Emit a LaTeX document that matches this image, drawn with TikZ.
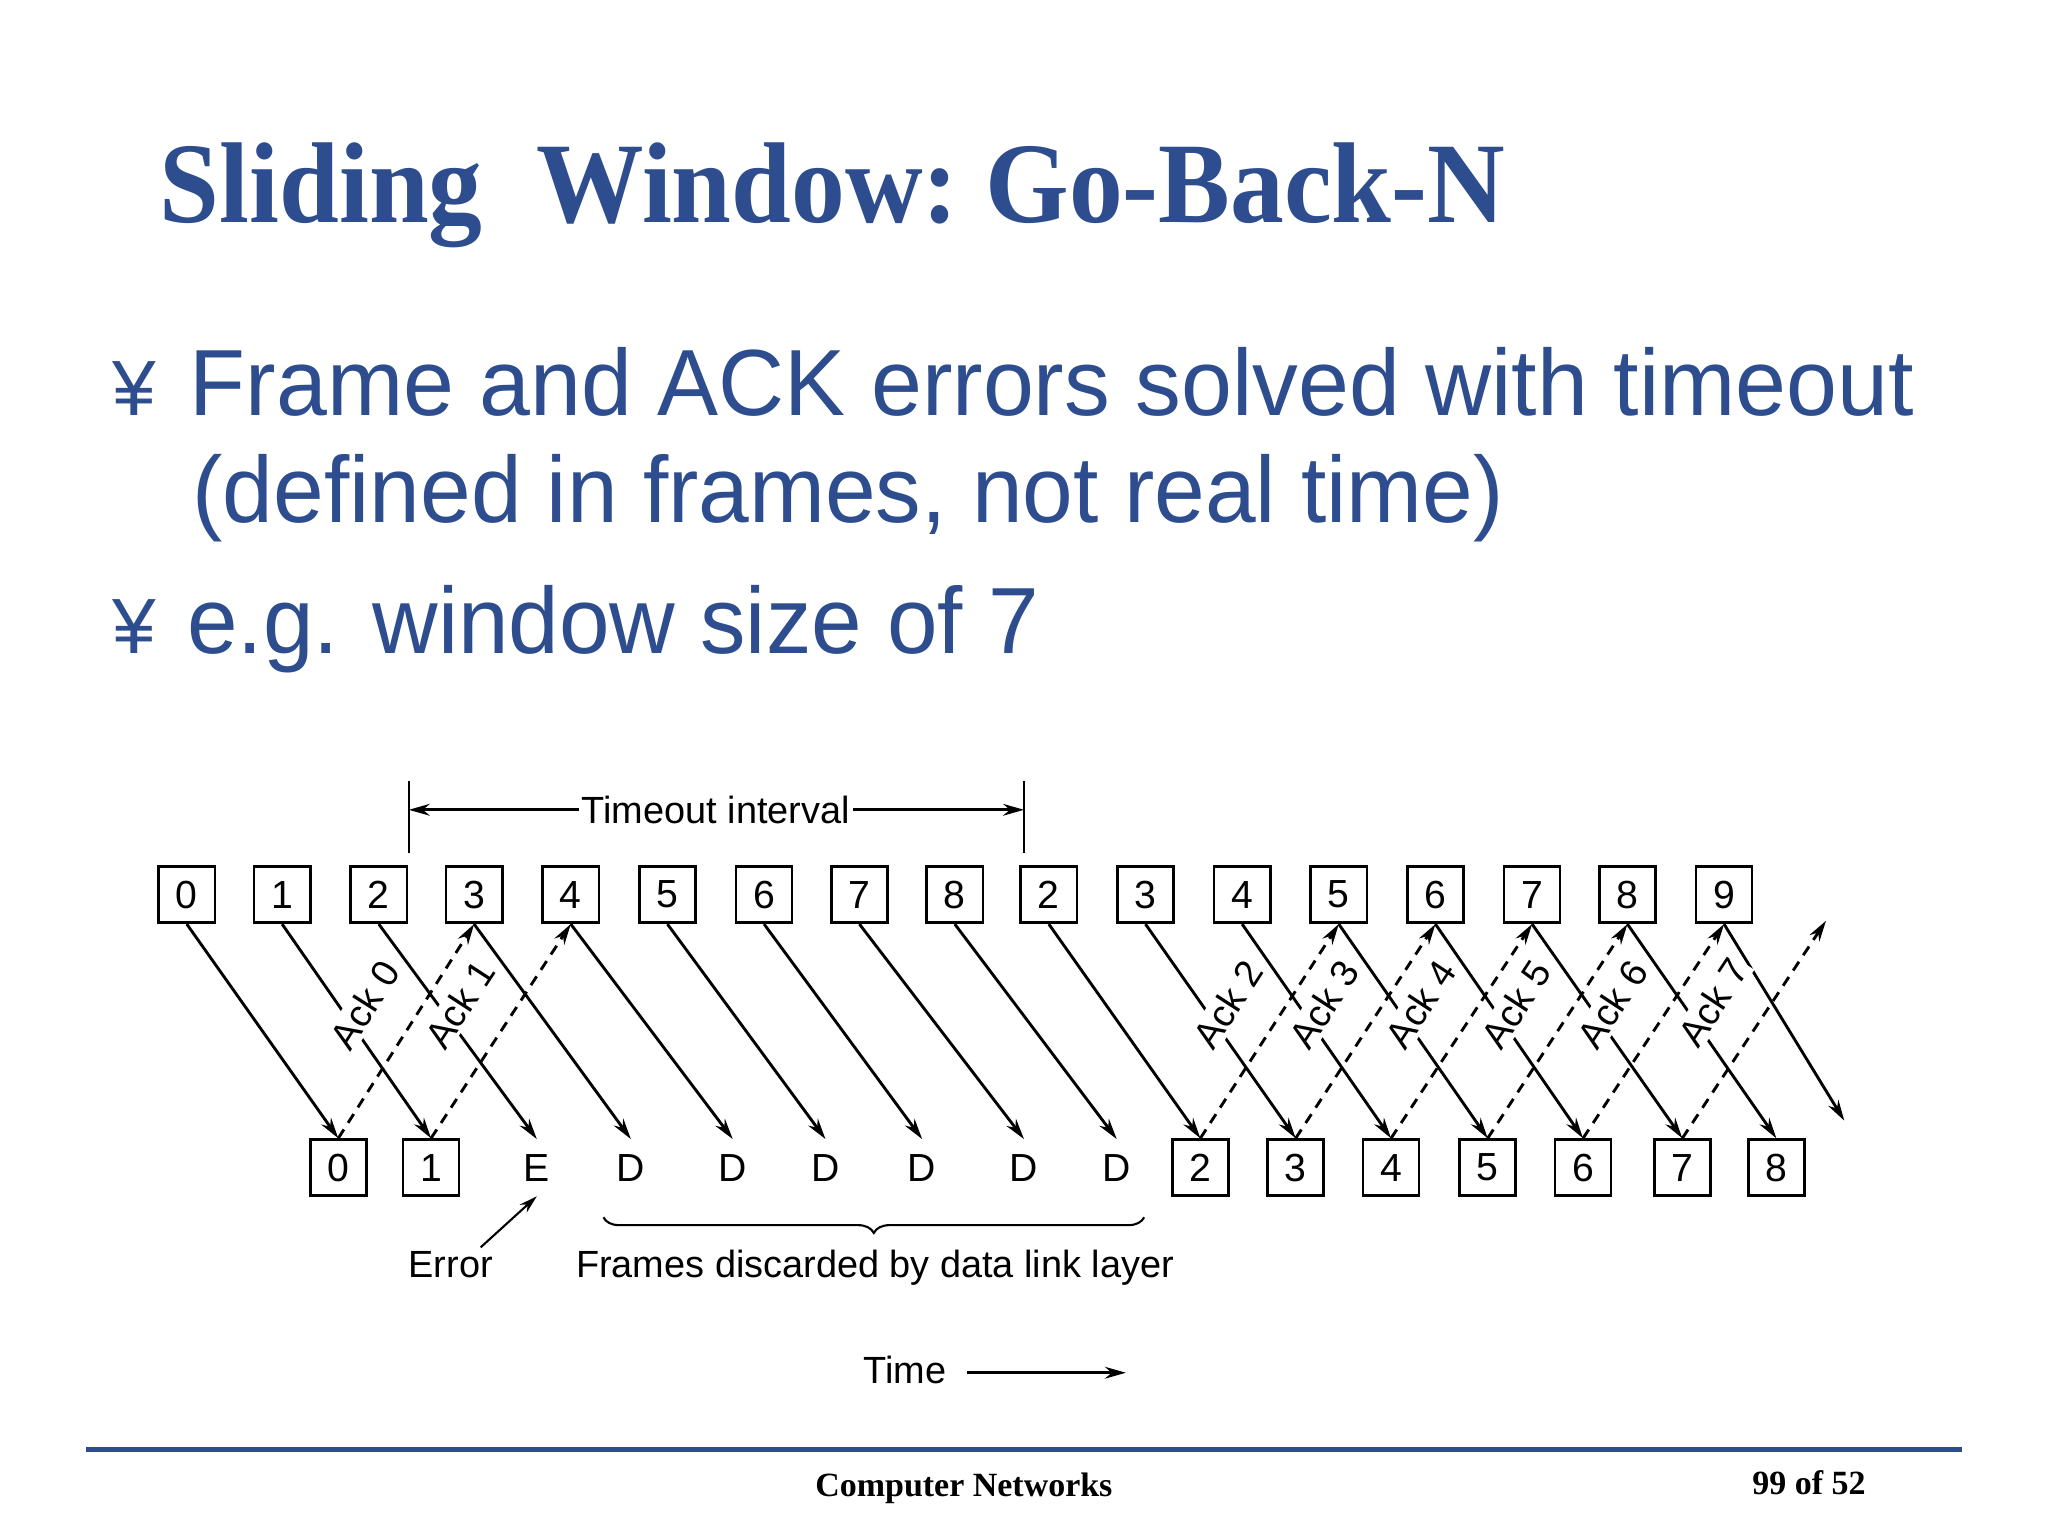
\documentclass[tikz,border=0pt]{standalone}
\usepackage{fontspec}
\usepackage{graphicx}
\setmainfont{Liberation Serif}
\setsansfont{Liberation Sans}
\usetikzlibrary{arrows.meta,decorations.pathreplacing}
\definecolor{slideblue}{HTML}{2E4D8F}
\begin{document}
\begin{tikzpicture}[x=0.5pt,y=-0.5pt,
  fr/.style={draw,line width=1pt,minimum width=21.5pt,minimum height=21.5pt,inner sep=0pt,font=\sffamily\fontsize{15}{15}\selectfont},
  lt/.style={draw=none,minimum width=21.5pt,minimum height=21.5pt,inner sep=0pt,font=\sffamily\fontsize{15}{15}\selectfont},
  farr/.style={line width=1.1pt,-{Stealth[length=8pt,width=4.5pt]}},
  aarr/.style={line width=1.1pt,dashed,dash pattern=on 4pt off 3pt,-{Stealth[length=8pt,width=4.5pt]}},
  acklab/.style={sloped,above=12pt,fill=white,inner sep=1pt,font=\sffamily\fontsize{14.5}{14.5}\selectfont},
  lab/.style={font=\sffamily\fontsize{14.5}{14.5}\selectfont,inner sep=1pt}]
\useasboundingbox[fill=white] (0,0) rectangle (1568,1176);
% title and bullets
\node[anchor=base west,text=slideblue,inner sep=0pt] (title) at (122,170)
  {\resizebox{515pt}{\height}{\fontsize{44}{44}\selectfont\bfseries Sliding\ \ Window:\ Go-Back-N}};
\node[anchor=base west,text=slideblue,inner sep=0pt,font=\sffamily\fontsize{30}{30}\selectfont] (y1) at (86,318) {¥};
\node[anchor=base west,text=slideblue,inner sep=0pt] (l1) at (145,318)
  {\resizebox{660pt}{\height}{\sffamily\fontsize{36}{36}\selectfont Frame and ACK errors solved with timeout}};
\node[anchor=base west,text=slideblue,inner sep=0pt] (l2) at (147,400)
  {\resizebox{502pt}{\height}{\sffamily\fontsize{36}{36}\selectfont (defined in frames, not real time)}};
\node[anchor=base west,text=slideblue,inner sep=0pt,font=\sffamily\fontsize{30}{30}\selectfont] (y2) at (86,500) {¥};
\node[anchor=base west,text=slideblue,inner sep=0pt] (l3) at (143,500)
  {\resizebox{326pt}{\height}{\sffamily\fontsize{36}{36}\selectfont e.g. window size of 7}};
% top frames
\foreach \i/\x/\t in {0/143/0,1/216/1,2/290/2,3/363/3,4/437/4,5/511/5,6/585/6,7/658/7,8/731/8,9/803/2,10/877/3,11/951/4,12/1025/5,13/1099/6,14/1173/7,15/1246/8,16/1320/9}
  \node[fr] (t\i) at (\x,685) {\t};
% bottom frames
\foreach \i/\x/\t in {0/259/0,1/330/1,9/919/2,10/992/3,11/1065/4,12/1139/5,13/1212/6,14/1288/7,15/1360/8}
  \node[fr] (b\i) at (\x,894) {\t};
\foreach \i/\x/\t in {2/411/E,3/483/D,4/561/D,5/632/D,6/706/D,7/784/D,8/855/D}
  \node[lt] (b\i) at (\x,894) {\t};
\coordinate (fend) at (1412,858);
\coordinate (aend) at (1398,705);
% frame arrows
\foreach \i in {0,...,15} \draw[farr] (t\i.south) -- (b\i.north);
\draw[farr] (t16.south) -- (fend);
% acks
\draw[aarr] (b0.north) -- node[acklab]{Ack 0} (t3.south);
\draw[aarr] (b1.north) -- node[acklab]{Ack 1} (t4.south);
\draw[aarr] (b9.north) -- node[acklab]{Ack 2} (t12.south);
\draw[aarr] (b10.north) -- node[acklab]{Ack 3} (t13.south);
\draw[aarr] (b11.north) -- node[acklab]{Ack 4} (t14.south);
\draw[aarr] (b12.north) -- node[acklab]{Ack 5} (t15.south);
\draw[aarr] (b13.north) -- node[acklab]{Ack 6} (t16.south);
\draw[aarr] (b14.north) -- node[acklab]{Ack 7} (aend);
% timeout interval
\coordinate (tl1) at (313,598); \coordinate (tl2) at (313,653);
\coordinate (tr1) at (784,598); \coordinate (tr2) at (784,653);
\draw[line width=1pt] (tl1) -- (tl2);
\draw[line width=1pt] (tr1) -- (tr2);
\node[lab,fill=white] (tint) at (548,620) {Timeout interval};
\coordinate (ta) at (313,620); \coordinate (tb) at (784,620);
\draw[farr] (tint.west) -- (ta);
\draw[farr] (tint.east) -- (tb);
% error / discarded
\node[lab,anchor=base] (err) at (345,978) {Error};
\draw[line width=0.8pt,-{Stealth[length=7pt,width=4pt]}] (368,955) -- (b2.south);
\coordinate (br1) at (462,932); \coordinate (br2) at (876,932);
\draw[line width=0.8pt,decorate,decoration={brace,mirror,amplitude=6pt}] (br1) -- (br2);
\node[lab,anchor=base] (disc) at (670,978) {Frames discarded by data link layer};
\node[lab,anchor=base] (time) at (693,1059) {Time};
\coordinate (tm2) at (862,1051);
\draw[farr] (740,1051) -- (tm2);
% footer
\coordinate (f1) at (66,1110); \coordinate (f2) at (1502,1110);
\draw[slideblue,line width=2pt] (f1) -- (f2);
\node[anchor=base,inner sep=0pt,font=\fontsize{13}{13}\selectfont\bfseries] (cn) at (738,1146) {Computer Networks};
\node[anchor=base,inner sep=0pt,font=\fontsize{13}{13}\selectfont\bfseries] (pg) at (1385,1144) {99 of 52};
\end{tikzpicture}
\end{document}
